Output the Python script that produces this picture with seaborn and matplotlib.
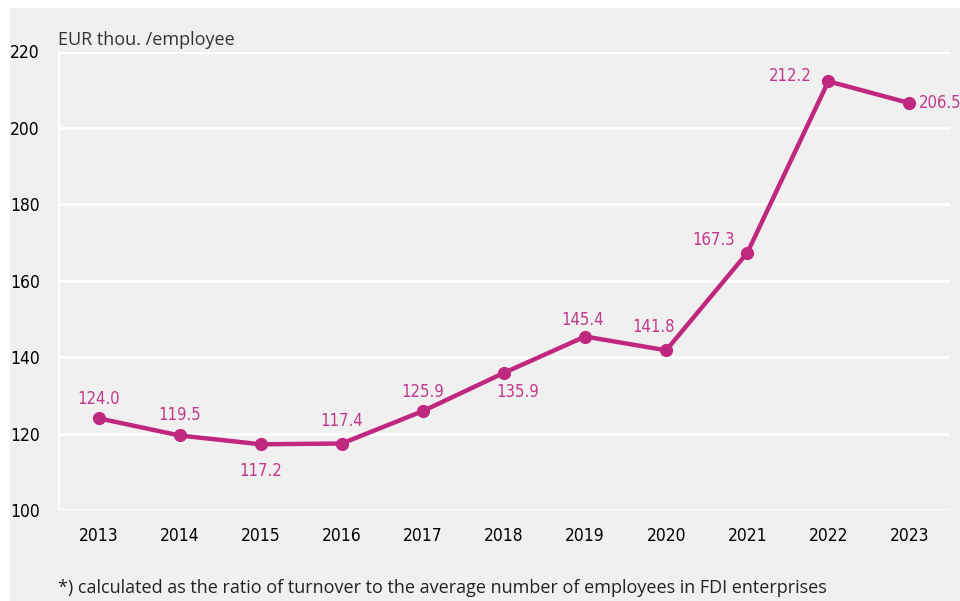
import matplotlib
matplotlib.use("Agg")
import matplotlib.pyplot as plt
from matplotlib.patches import Rectangle
from matplotlib.ticker import FixedLocator
from matplotlib import font_manager
import seaborn as sns
import pandas as pd

years = ["2013", "2014", "2015", "2016", "2017", "2018", "2019", "2020", "2021", "2022", "2023"]
values = [124.0, 119.5, 117.2, 117.4, 125.9, 135.9, 145.4, 141.8, 167.3, 212.2, 206.5]
# label offsets in points (dx, dy) and horizontal alignment per point
label_pos = [(0, 14, "center"), (0, 15, "center"), (0, -19, "center"), (0, 16.5, "center"),
             (0, 14, "center"), (10, -14, "center"), (-2, 12, "center"), (-9, 17, "center"),
             (-9, 9.5, "right"), (-12, 3.5, "right"), (6.5, 0, "left")]
y_ticks = [100, 120, 140, 160, 180, 200, 220]
unit_label = "EUR thou. /employee"
footnote = "*) calculated as the ratio of turnover to the average number of employees in FDI enterprises"

BG = "#f0f0f0"
LINE = "#c0277f"
LABEL = "#c2388a"
regular = ["Open Sans", "DejaVu Sans"]

sns.set_style("white")
names = {f.name for f in font_manager.fontManager.ttflist}
if "Liberation Sans Narrow" in names:
    narrow = font_manager.FontProperties(family="Liberation Sans Narrow")
else:
    narrow = font_manager.FontProperties(family="DejaVu Sans", stretch="condensed")
plt.rcParams["font.family"] = ["DejaVu Sans"]

df = pd.DataFrame({"year": years, "value": values})

fig = plt.figure(figsize=(9.6, 6.01), dpi=100, facecolor="white")
fig.patches.append(Rectangle((10 / 960, 0), 950 / 960, (601 - 8) / 601,
                             transform=fig.transFigure, facecolor=BG,
                             edgecolor="none", zorder=-10))

ax = fig.add_axes([58 / 960, (601 - 510) / 601, 892 / 960, (510 - 51.5) / 601])
ax.set_facecolor(BG)

sns.lineplot(data=df, x="year", y="value", ax=ax, color=LINE, linewidth=3.2,
             marker="o", markersize=9.5, markeredgewidth=0, sort=False, zorder=3)

ax.set_xlim(-0.5, len(years) - 0.5)
ax.set_ylim(100, 220)
ax.set_yticks(y_ticks)
ax.set_yticklabels([str(t) for t in y_ticks])
ax.grid(axis="y", color="white", linewidth=2)
ax.grid(axis="x", visible=False)
ax.set_axisbelow(True)
for s in ax.spines.values():
    s.set_visible(False)
ax.axvline(-0.5, color="white", linewidth=2, zorder=1)

ax.tick_params(axis="x", which="major", length=0, pad=12, labelcolor="#000000")
ax.tick_params(axis="y", which="major", length=0, pad=13, labelcolor="#000000")
for lab in ax.get_xticklabels() + ax.get_yticklabels():
    lab.set_fontproperties(narrow)
    lab.set_fontsize(12.5)
ax.xaxis.set_minor_locator(FixedLocator([i - 0.5 for i in range(len(years) + 1)]))
ax.tick_params(axis="x", which="minor", length=6, width=1.8, color="white", direction="out")
ax.set_xlabel("")
ax.set_ylabel("")

for i, (v, (dx, dy, ha)) in enumerate(zip(values, label_pos)):
    t = ax.annotate(f"{v:.1f}", (i, v), xytext=(dx, dy), textcoords="offset points",
                    ha=ha, va="center", color=LABEL, zorder=4)
    t.set_fontproperties(narrow)
    t.set_fontsize(12)

fig.text(58 / 960, 1 - 40 / 601, unit_label, ha="left", va="center",
         fontsize=13, color="#333333", family=regular)
fig.text(58 / 960, 1 - 588 / 601, footnote, ha="left", va="center",
         fontsize=13, color="#222222", family=regular)

fig.savefig("out.png", dpi=100, facecolor="white")
